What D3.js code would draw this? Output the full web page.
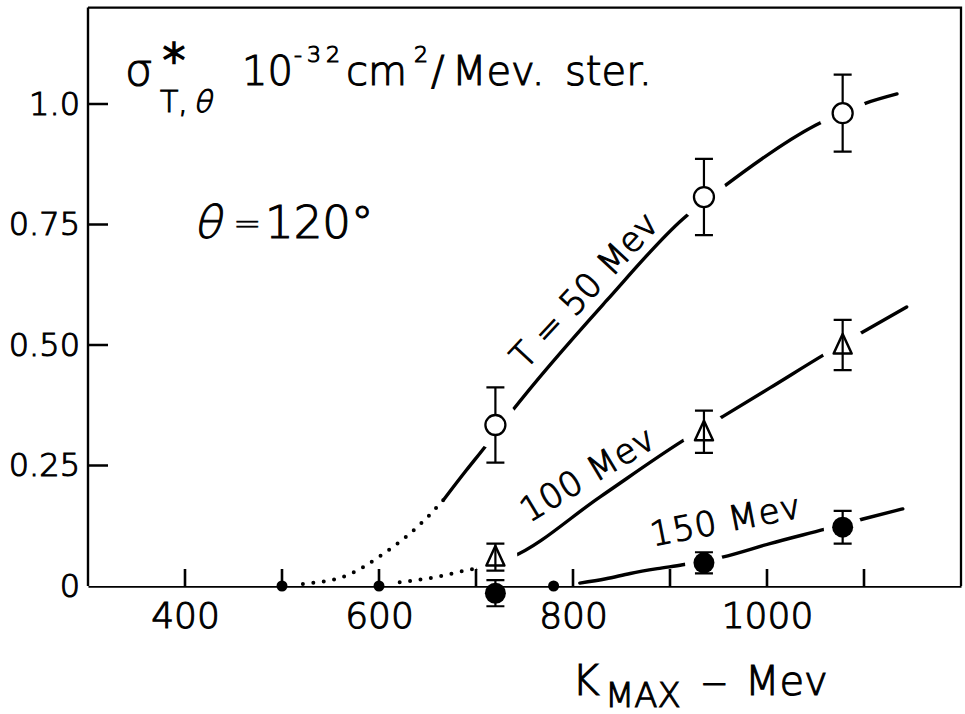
<!DOCTYPE html>
<html>
<head>
<meta charset="utf-8">
<script src="https://cdn.jsdelivr.net/npm/d3@7"></script>
<style>
  body { margin: 0; background: #fff; }
  svg { display: block; }
  text { font-family: "DejaVu Sans", sans-serif; font-weight: 200; fill: #000;
         stroke: #000; stroke-width: 1.1px; }
</style>
</head>
<body>
<svg id="chart" width="965" height="714"></svg>
<script>
// ---- measured cross sections (10^-32 cm^2 / Mev ster), theta = 120 deg ----
const kMax = [720, 935, 1078];                 // bremsstrahlung end point K_MAX (Mev)
const sigmaT50  = [0.334, 0.807, 0.981];       // T = 50 Mev   (open circles)
const errT50    = [0.078, 0.079, 0.080];
const sigmaT100 = [0.060, 0.320, 0.500];       // T = 100 Mev  (open triangles)
const errT100   = [0.028, 0.044, 0.052];
const sigmaT150 = [-0.015, 0.048, 0.122];      // T = 150 Mev  (filled circles)
const errT150   = [0.027, 0.022, 0.034];
const kZero     = [500, 600, 780];             // end points giving zero yield
const sigmaZero = [0, 0, 0];

// ---- smooth curves drawn through the data ----
const curveT50K  = [500, 520, 563, 604, 650, 667, 690, 709, 738, 835, 913, 955, 1050, 1102, 1134];
const curveT50V  = [0, 0.004, 0.019, 0.066, 0.143, 0.180, 0.240, 0.288, 0.365, 0.593, 0.761, 0.828, 0.956, 1.002, 1.021];
const curveT100K = [600, 616, 637, 660, 682, 702, 737, 828, 913, 954, 1003, 1058, 1097, 1144];
const curveT100V = [0, 0.006, 0.012, 0.019, 0.029, 0.037, 0.060, 0.185, 0.301, 0.351, 0.411, 0.479, 0.525, 0.579];
const curveT150K = [807, 834, 859, 887, 913, 954, 1003, 1060, 1099, 1140];
const curveT150V = [0.006, 0.015, 0.026, 0.036, 0.044, 0.060, 0.088, 0.118, 0.139, 0.160];
// below these end points the curves are only an extrapolation (dotted)
const dottedUntil = { t50: 667, t100: 702, t150: 0 };

// ---- axis ticks ----
const xTicks = [400, 500, 600, 700, 800, 900, 1000, 1100];
const xTickLabels = ["400", "", "600", "", "800", "", "1000", ""];
const yTicks = [0, 0.25, 0.5, 0.75, 1.0];
const yTickLabels = ["0", "0.25", "0.50", "0.75", "1.0"];

const W = 965, H = 714;
const svg = d3.select("#chart");

const x = d3.scaleLinear().domain([300, 1200]).range([88, 961]);
const y = d3.scaleLinear().domain([0, 1]).range([586, 104]);
const yTop = 1.2;
const xTickLen = 17, yTickLen = 20;

// series table
const series = [
  { key: "t50",  k: kMax, v: sigmaT50,  e: errT50,  shape: "open",     gap: 24,
    ck: curveT50K,  cv: curveT50V },
  { key: "t100", k: kMax, v: sigmaT100, e: errT100, shape: "triangle", gap: 22,
    ck: curveT100K, cv: curveT100V },
  { key: "t150", k: kMax, v: sigmaT150, e: errT150, shape: "filled",   gap: 19,
    ck: curveT150K, cv: curveT150V },
  { key: "zero", k: kZero, v: sigmaZero, e: null,   shape: "dot",      gap: 14,
    ck: null, cv: null }
];

const points = series.flatMap(s => s.k.map((k, i) => ({
  k, v: s.v[i], e: s.e ? s.e[i] : null, shape: s.shape, gap: s.gap
})));

// mask that opens a small gap in curves and base line around each measured point
const defs = svg.append("defs");
const mask = defs.append("mask").attr("id", "gaps")
  .attr("maskUnits", "userSpaceOnUse")
  .attr("x", 0).attr("y", 0).attr("width", W).attr("height", H);
mask.append("rect").attr("width", W).attr("height", H).attr("fill", "white");
mask.selectAll("circle").data(points).join("circle")
  .attr("cx", d => x(d.k)).attr("cy", d => y(d.v)).attr("r", d => d.gap)
  .attr("fill", "black");

// ---- frame ----
svg.append("path")
  .attr("d", `M${x(300)},${y(yTop)}H${x(1200)}V${y(0)}`)
  .attr("fill", "none").attr("stroke", "#000").attr("stroke-width", 2.3);

// ---- axes: base lines and tick labels ----
const xAxis = d3.axisBottom(x)
  .tickValues(xTicks)
  .tickFormat((d, i) => xTickLabels[i])
  .tickSize(0).tickPadding(16);
const gx = svg.append("g").attr("transform", `translate(0,${y(0)})`).call(xAxis)
  .attr("font-family", null).attr("font-size", null);
gx.select(".domain").attr("stroke", "#000").attr("stroke-width", 2.4).attr("mask", "url(#gaps)");
gx.selectAll(".tick text").attr("font-size", 36).attr("fill", "#000").attr("dy", "0.71em");

const yAxis = d3.axisLeft(y)
  .tickValues(yTicks)
  .tickFormat((d, i) => yTickLabels[i])
  .tickSize(0).tickPadding(8);
const gy = svg.append("g").attr("transform", `translate(${x(300)},0)`).call(yAxis)
  .attr("font-family", null).attr("font-size", null);
gy.select(".domain").attr("d", `M0,${y(0)}V${y(yTop)}`)
  .attr("stroke", "#000").attr("stroke-width", 2.4);
gy.selectAll(".tick text").attr("font-size", 32).attr("fill", "#000");

// ---- curves ----
const line = d3.line().x(d => x(d[0])).y(d => y(d[1])).curve(d3.curveMonotoneX);
const curves = svg.append("g").attr("mask", "url(#gaps)")
  .attr("fill", "none").attr("stroke", "#000");
series.filter(s => s.ck).forEach(s => {
  const knots = s.ck.map((k, i) => [k, s.cv[i]]);
  const split = dottedUntil[s.key];
  const dotted = knots.filter(d => d[0] <= split);
  const solid = knots.filter(d => d[0] >= split);
  if (dotted.length > 1) {
    curves.append("path").attr("d", line(dotted))
      .attr("stroke-width", 4).attr("stroke-linecap", "round")
      .attr("stroke-dasharray", "0 10.5");
  }
  curves.append("path").attr("d", line(solid))
    .attr("stroke-width", 3.4).attr("stroke-linecap", "round");
});

// ---- error bars and markers ----
const marks = svg.append("g");
const withErr = points.filter(d => d.e != null);
const cap = 9;
marks.selectAll("path.err").data(withErr).join("path").attr("class", "err")
  .attr("d", d => {
    const cx = x(d.k), y0 = y(d.v - d.e), y1 = y(d.v + d.e);
    return `M${cx - cap},${y1}H${cx + cap}M${cx},${y1}V${y0}M${cx - cap},${y0}H${cx + cap}`;
  })
  .attr("fill", "none").attr("stroke", "#000").attr("stroke-width", 2.2);

marks.selectAll("circle.open").data(points.filter(d => d.shape === "open")).join("circle")
  .attr("class", "open")
  .attr("cx", d => x(d.k)).attr("cy", d => y(d.v)).attr("r", 10)
  .attr("fill", "#fff").attr("stroke", "#000").attr("stroke-width", 2.3);

marks.selectAll("path.tri").data(points.filter(d => d.shape === "triangle")).join("path")
  .attr("class", "tri")
  .attr("d", d => {
    const cx = x(d.k), cy = y(d.v);
    return `M${cx},${cy - 11}L${cx + 9},${cy + 8.5}H${cx - 9}Z`;
  })
  .attr("fill", "none").attr("stroke", "#000").attr("stroke-width", 2.5)
  .attr("stroke-linejoin", "round");

marks.selectAll("circle.filled").data(points.filter(d => d.shape === "filled")).join("circle")
  .attr("class", "filled")
  .attr("cx", d => x(d.k)).attr("cy", d => y(d.v)).attr("r", 10.5)
  .attr("fill", "#000");

marks.selectAll("circle.dot").data(points.filter(d => d.shape === "dot")).join("circle")
  .attr("class", "dot")
  .attr("cx", d => x(d.k)).attr("cy", d => y(d.v)).attr("r", 5.5)
  .attr("fill", "#000");

// ---- curve labels ----
const curveLabels = [
  { text: "T = 50 Mev", cx: 584, cy: 290, angle: -47, len: 198 },
  { text: "100 Mev",    cx: 587, cy: 474, angle: -31, len: 150 },
  { text: "150 Mev",    cx: 725, cy: 520, angle: -11, len: 152 }
];
svg.append("g").selectAll("text").data(curveLabels).join("text")
  .attr("transform", d => `translate(${d.cx},${d.cy}) rotate(${d.angle})`)
  .attr("text-anchor", "middle").attr("dominant-baseline", "central")
  .attr("font-size", 34)
  .attr("textLength", d => d.len).attr("lengthAdjust", "spacing")
  .text(d => d.text);

// ---- quantity and units ----
const head = svg.append("g");
head.append("text").attr("x", 125).attr("y", 85).attr("font-size", 44).text("σ");
head.append("text").attr("x", 174).attr("y", 76).attr("font-size", 44)
  .attr("text-anchor", "middle").style("stroke-width", "2.4px").text("*");
head.append("text").attr("x", 160).attr("y", 112).attr("font-size", 30).text("T,");
head.append("text").attr("transform", "translate(193,112) skewX(-14)")
  .attr("font-size", 30).text("θ");

const unit = head.append("text").attr("y", 85).attr("font-size", 40);
unit.append("tspan").attr("x", 242).text("10");
unit.append("tspan").attr("x", 294).attr("y", 62).attr("font-size", 22)
  .attr("textLength", 46).attr("lengthAdjust", "spacing").text("-32");
unit.append("tspan").attr("x", 346).attr("y", 85).text("cm");
unit.append("tspan").attr("x", 414).attr("y", 62).attr("font-size", 22).text("2");
unit.append("tspan").attr("x", 431).attr("y", 85).text("/");
unit.append("tspan").attr("x", 452).text("Mev.");
unit.append("tspan").attr("x", 565).text("ster.");

head.append("text").attr("transform", "translate(193,238) skewX(-14)")
  .attr("font-size", 45).text("θ");
const ang = head.append("text").attr("y", 238).attr("font-size", 45);
ang.append("tspan").attr("x", 233).attr("y", 235).attr("font-size", 34)
  .style("stroke-width", "0.5px").text("=");
ang.append("tspan").attr("x", 265).attr("y", 238).text("120°");

// ---- x axis title ----
const xt = svg.append("text").attr("y", 695).attr("font-size", 42);
xt.append("tspan").attr("x", 572).text("K");
xt.append("tspan").attr("x", 605).attr("y", 707).attr("font-size", 34).text("MAX");
xt.append("tspan").attr("x", 700).attr("y", 695).attr("font-size", 34).text("−");
xt.append("tspan").attr("x", 745).attr("font-size", 40).text("Mev");

// ---- inward tick marks, drawn on top of everything ----
const tickD = xTicks.map(t => `M${x(t)},${y(0)}L${x(t)},${y(0) - xTickLen}`)
  .concat(yTicks.filter(t => t > 0).map(t => `M${x(300)},${y(t)}L${x(300) + yTickLen},${y(t)}`))
  .join(" ");
svg.append("path")
  .attr("class", "inner-ticks")
  .attr("d", tickD)
  .style("fill", "none").style("stroke", "#000").style("stroke-width", "2.6px")
  .style("stroke-linecap", "butt");
</script>
</body>
</html>
